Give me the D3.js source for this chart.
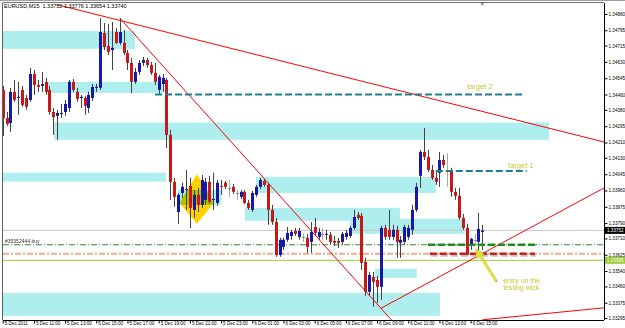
<!DOCTYPE html>
<html>
<head>
<meta charset="utf-8">
<script src="https://cdnjs.cloudflare.com/ajax/libs/d3/7.8.5/d3.min.js"></script>
<style>
  body { margin: 0; background: #ffffff; }
  svg { display: block; font-family: Arial, "Liberation Sans", sans-serif; }
</style>
</head>
<body>
<svg id="chart" width="625" height="328"></svg>
<script>
// ---- data ----
var symbolTitle = "EURUSD,M15  1.33752 1.33776 1.33654 1.33740";
var firstBar = "2011-12-05 09:00";
var viewEnd = "2011-12-06 23:33";
var priceRange = [1.33285, 1.34937];

var open = [
1.34484, 1.34338, 1.34312, 1.34474, 1.34442, 1.34484, 1.34442, 1.34432, 1.34567, 1.34510,
1.34505, 1.34526, 1.34484, 1.34369, 1.34349, 1.34359, 1.34369, 1.34390, 1.34526, 1.34474,
1.34442, 1.34442, 1.34390, 1.34442, 1.34495, 1.34495, 1.34781, 1.34713, 1.34692, 1.34786,
1.34729, 1.34729, 1.34677, 1.34625, 1.34526, 1.34578, 1.34625, 1.34640, 1.34614, 1.34573,
1.34484, 1.34515, 1.34536, 1.34250, 1.34005, 1.33848, 1.33947, 1.33963, 1.33984, 1.33859,
1.33937, 1.33885, 1.33911, 1.34005, 1.33911, 1.33895, 1.33984, 1.34000, 1.33974, 1.33979,
1.33947, 1.33927, 1.33953, 1.33895, 1.33859, 1.33937, 1.33979, 1.34010, 1.33989, 1.33859,
1.33796, 1.33624, 1.33666, 1.33703, 1.33723, 1.33749, 1.33718, 1.33718, 1.33713, 1.33692,
1.33770, 1.33718, 1.33734, 1.33729, 1.33729, 1.33697, 1.33697, 1.33692, 1.33718, 1.33723,
1.33765, 1.33833, 1.33828, 1.33588, 1.33432, 1.33510, 1.33494, 1.33458, 1.33765, 1.33755,
1.33718, 1.33755, 1.33687, 1.33692, 1.33718, 1.33755, 1.33859, 1.34036, 1.34161, 1.34135,
1.34067, 1.34026, 1.34052, 1.34119, 1.34067, 1.34067, 1.33953, 1.33932, 1.33817, 1.33765,
1.33677, 1.33703, 1.33692, 1.33744
];
var high = [
1.34505, 1.34369, 1.34495, 1.34536, 1.34526, 1.34505, 1.34458, 1.34599, 1.34588, 1.34536,
1.34578, 1.34547, 1.34505, 1.34390, 1.34380, 1.34411, 1.34432, 1.34536, 1.34541, 1.34495,
1.34458, 1.34453, 1.34474, 1.34515, 1.34515, 1.34859, 1.34833, 1.34828, 1.34838, 1.34807,
1.34859, 1.34797, 1.34692, 1.34651, 1.34599, 1.34640, 1.34656, 1.34651, 1.34630, 1.34625,
1.34562, 1.34567, 1.34547, 1.34276, 1.34026, 1.33947, 1.34000, 1.34067, 1.34026, 1.33963,
1.33974, 1.34041, 1.34026, 1.34036, 1.34052, 1.34015, 1.34015, 1.34010, 1.34015, 1.33994,
1.33963, 1.33963, 1.33963, 1.33911, 1.33958, 1.33989, 1.34026, 1.34020, 1.34000, 1.33885,
1.33817, 1.33713, 1.33713, 1.33770, 1.33755, 1.33765, 1.33765, 1.33739, 1.33734, 1.33796,
1.33817, 1.33765, 1.33765, 1.33755, 1.33744, 1.33723, 1.33713, 1.33744, 1.33755, 1.33776,
1.33859, 1.33848, 1.33843, 1.33609, 1.33536, 1.33536, 1.33515, 1.33776, 1.33781, 1.33859,
1.33781, 1.33776, 1.33723, 1.33781, 1.33781, 1.33885, 1.34000, 1.34171, 1.34286, 1.34171,
1.34093, 1.34057, 1.34161, 1.34145, 1.34156, 1.34078, 1.33974, 1.33974, 1.33838, 1.33786,
1.33713, 1.33734, 1.33843, 1.33781
];
var low = [
1.34244, 1.34297, 1.34265, 1.34422, 1.34354, 1.34396, 1.34380, 1.34422, 1.34458, 1.34474,
1.34474, 1.34458, 1.34354, 1.34250, 1.34224, 1.34338, 1.34349, 1.34369, 1.34474, 1.34422,
1.34390, 1.34354, 1.34364, 1.34427, 1.34474, 1.34484, 1.34692, 1.34666, 1.34588, 1.34724,
1.34719, 1.34666, 1.34588, 1.34468, 1.34515, 1.34562, 1.34609, 1.34599, 1.34562, 1.34510,
1.34458, 1.34474, 1.34182, 1.33911, 1.33875, 1.33786, 1.33921, 1.33859, 1.33765, 1.33817,
1.33848, 1.33869, 1.33885, 1.33890, 1.33859, 1.33880, 1.33937, 1.33968, 1.33927, 1.33942,
1.33911, 1.33916, 1.33890, 1.33859, 1.33848, 1.33927, 1.33968, 1.33979, 1.33781, 1.33781,
1.33614, 1.33614, 1.33650, 1.33692, 1.33703, 1.33723, 1.33703, 1.33692, 1.33635, 1.33635,
1.33723, 1.33703, 1.33703, 1.33703, 1.33677, 1.33671, 1.33661, 1.33677, 1.33703, 1.33713,
1.33755, 1.33807, 1.33546, 1.33411, 1.33416, 1.33354, 1.33374, 1.33390, 1.33703, 1.33703,
1.33703, 1.33609, 1.33609, 1.33677, 1.33703, 1.33729, 1.33848, 1.33974, 1.34119, 1.34057,
1.34015, 1.33989, 1.33979, 1.34078, 1.33979, 1.33927, 1.33911, 1.33807, 1.33755, 1.33619,
1.33650, 1.33671, 1.33635, 1.33650
];
var close = [
1.34338, 1.34307, 1.34474, 1.34432, 1.34448, 1.34406, 1.34396, 1.34567, 1.34510, 1.34500,
1.34515, 1.34474, 1.34369, 1.34343, 1.34364, 1.34364, 1.34411, 1.34526, 1.34484, 1.34437,
1.34448, 1.34401, 1.34458, 1.34500, 1.34500, 1.34786, 1.34708, 1.34682, 1.34703, 1.34729,
1.34786, 1.34677, 1.34625, 1.34526, 1.34578, 1.34625, 1.34640, 1.34614, 1.34573, 1.34526,
1.34552, 1.34547, 1.34250, 1.34005, 1.33927, 1.33937, 1.33979, 1.33968, 1.33869, 1.33937,
1.33885, 1.34015, 1.34005, 1.33901, 1.33916, 1.34000, 1.33979, 1.33979, 1.33974, 1.33953,
1.33947, 1.33953, 1.33895, 1.33869, 1.33947, 1.33979, 1.34015, 1.33989, 1.33859, 1.33796,
1.33624, 1.33703, 1.33703, 1.33739, 1.33744, 1.33734, 1.33749, 1.33718, 1.33666, 1.33744,
1.33739, 1.33744, 1.33734, 1.33734, 1.33692, 1.33687, 1.33687, 1.33734, 1.33739, 1.33765,
1.33822, 1.33817, 1.33583, 1.33432, 1.33520, 1.33484, 1.33458, 1.33765, 1.33718, 1.33718,
1.33755, 1.33692, 1.33703, 1.33770, 1.33765, 1.33859, 1.33979, 1.34161, 1.34135, 1.34067,
1.34026, 1.34005, 1.34119, 1.34093, 1.34067, 1.33953, 1.33932, 1.33817, 1.33765, 1.33624,
1.33708, 1.33703, 1.33760, 1.33752
];

var priceTicks = [1.34880, 1.34795, 1.34715, 1.34630, 1.34545, 1.34460, 1.34380, 1.34295, 1.34210, 1.34130,
                  1.34045, 1.33960, 1.33875, 1.33790, 1.33710, 1.33625, 1.33540, 1.33460, 1.33375, 1.33295];
var timeTicks = ["2011-12-05 09:00", "2011-12-05 11:00", "2011-12-05 13:00", "2011-12-05 15:00",
                 "2011-12-05 17:00", "2011-12-05 19:00", "2011-12-05 21:00", "2011-12-05 23:00",
                 "2011-12-06 01:00", "2011-12-06 03:00", "2011-12-06 05:00", "2011-12-06 07:00",
                 "2011-12-06 09:00", "2011-12-06 11:00", "2011-12-06 13:00", "2011-12-06 15:00"];
var timeLabels = ["5 Dec 2011", "5 Dec 11:00", "5 Dec 13:00", "5 Dec 15:00", "5 Dec 17:00", "5 Dec 19:00",
                  "5 Dec 21:00", "5 Dec 23:00", "6 Dec 01:00", "6 Dec 03:00", "6 Dec 05:00", "6 Dec 07:00",
                  "6 Dec 09:00", "6 Dec 11:00", "6 Dec 13:00", "6 Dec 15:00"];

// supply / demand zones: [from, to, top price, bottom price]
var zones = [
  ["2011-12-05 09:00", "2011-12-05 17:29", 1.34791, 1.34698],
  ["2011-12-05 11:50", "2011-12-05 19:16", 1.34526, 1.34468],
  ["2011-12-05 12:17", "2011-12-06 20:01", 1.34314, 1.34224],
  ["2011-12-05 09:00", "2011-12-05 19:28", 1.34053, 1.34006],
  ["2011-12-06 01:14", "2011-12-06 12:46", 1.34031, 1.33947],
  ["2011-12-05 20:14", "2011-12-05 23:00", 1.33963, 1.33885],
  ["2011-12-06 00:32", "2011-12-06 10:28", 1.33869, 1.33802],
  ["2011-12-06 07:16", "2011-12-06 14:38", 1.33812, 1.33734],
  ["2011-12-06 08:52", "2011-12-06 11:33", 1.33552, 1.33505],
  ["2011-12-05 09:00", "2011-12-06 13:02", 1.33426, 1.33307]
];
// trend rays: [time1, price1, time2, price2]
var trendLines = [
  ["2011-12-05 12:30", 1.34928, "2011-12-06 22:30", 1.34234],
  ["2011-12-05 16:30", 1.34859, "2011-12-06 09:15", 1.33346],
  ["2011-12-06 09:15", 1.33346, "2011-12-06 23:30", 1.33971],
  ["2011-12-06 15:45", 1.33286, "2011-12-06 23:30", 1.33348]
];
var diamond = [["2011-12-05 21:27", 1.34046], ["2011-12-05 22:33", 1.33895],
               ["2011-12-05 21:27", 1.33786], ["2011-12-05 20:20", 1.33895]];
// short level segments: [from, to, price]
var targetLevels = [
  ["2011-12-05 18:46", "2011-12-06 18:29", 1.34460],
  ["2011-12-06 12:46", "2011-12-06 18:36", 1.34062]
];
var stopLevel = ["2011-12-06 12:23", "2011-12-06 19:07", 1.33630];
var entryLevel = ["2011-12-06 12:16", "2011-12-06 19:07", 1.33677];
var orderPrice = 1.33677, orderStop = 1.33630, greenLevel = 1.33596, bidPrice = 1.33752;
var orderLabel = "#35352444 buy";
var notes = [
  ["target 2", "2011-12-06 14:46", 1.34489],
  ["target 1", "2011-12-06 17:24", 1.34078],
  ["entry on the", "2011-12-06 17:05", 1.33479],
  ["testing wick", "2011-12-06 17:05", 1.33442]
];
var arrow = [["2011-12-06 16:37", 1.33489], ["2011-12-06 15:19", 1.33656]];

// ---- drawing ----
var parse = d3.timeParse("%Y-%m-%d %H:%M");
var t0 = parse(firstBar);
var plotLeft = 3, plotTop = 3, plotRight = 604, plotBottom = 320;

var svg = d3.select("#chart");
var x = d3.scaleTime().domain([t0, parse(viewEnd)]).range([2.7, plotRight]);
var y = d3.scaleLinear().domain(priceRange).range([plotBottom, plotTop]);

var bars = open.map(function (o, i) {
  return { t: d3.timeMinute.offset(t0, 15 * i), o: o, h: high[i], l: low[i], c: close[i] };
});

svg.append("line").attr("x1", 0).attr("x2", 625).attr("y1", 0.5).attr("y2", 0.5)
  .attr("stroke", "#a0a0a0");

svg.append("clipPath").attr("id", "plot")
  .append("rect").attr("x", plotLeft).attr("y", plotTop)
  .attr("width", plotRight - plotLeft).attr("height", plotBottom - plotTop);

var g = svg.append("g").attr("clip-path", "url(#plot)");

// zones
g.selectAll(".zone").data(zones).enter().append("rect")
  .attr("x", function (d) { return x(parse(d[0])); })
  .attr("width", function (d) { return x(parse(d[1])) - x(parse(d[0])); })
  .attr("y", function (d) { return y(d[2]); })
  .attr("height", function (d) { return y(d[3]) - y(d[2]); })
  .attr("fill", "#afeeee");

// diamond pattern marker
g.append("polygon")
  .attr("points", diamond.map(function (d) { return x(parse(d[0])) + "," + y(d[1]); }).join(" "))
  .attr("fill", "#ffd200").style("mix-blend-mode", "multiply");

// full width order / price lines
function hline(price, color, width, dash) {
  g.append("line").attr("x1", plotLeft).attr("x2", plotRight)
    .attr("y1", y(price)).attr("y2", y(price))
    .attr("stroke", color).attr("stroke-width", width)
    .attr("stroke-dasharray", dash || null);
}
hline(bidPrice, "#c8c8c8", 1);
hline(orderPrice, "#2e8b2e", 1, "6,2,1,2");
hline(orderStop, "#f6a88a", 2, "6,2,2,2");
hline(greenLevel, "#9acd32", 1);

g.append("text").attr("x", 5).attr("y", y(orderPrice) - 1.5)
  .attr("font-size", 5).attr("fill", "#333").text(orderLabel);

// trend rays
trendLines.forEach(function (d) {
  var x1 = x(parse(d[0])), y1 = y(d[1]), x2 = x(parse(d[2])), y2 = y(d[3]);
  var k = (y2 - y1) / (x2 - x1);
  g.append("line").attr("x1", x1).attr("y1", y1)
    .attr("x2", plotRight + 10).attr("y2", y1 + k * (plotRight + 10 - x1))
    .attr("stroke", "#ff0000").attr("stroke-width", 1);
});

// candles
var cw = 3;
var candle = g.selectAll(".bar").data(bars).enter().append("g");
candle.append("line")
  .attr("x1", function (d) { return Math.round(x(d.t)) + 0.5; })
  .attr("x2", function (d) { return Math.round(x(d.t)) + 0.5; })
  .attr("y1", function (d) { return y(d.h); })
  .attr("y2", function (d) { return y(d.l); })
  .attr("stroke", function (d) { return d.o === d.c ? "#a8a8a8" : "#444"; });
candle.filter(function (d) { return d.o !== d.c; }).append("rect")
  .attr("x", function (d) { return Math.round(x(d.t)) - 1; })
  .attr("width", cw)
  .attr("y", function (d) { return y(Math.max(d.o, d.c)); })
  .attr("height", function (d) { return Math.max(1, Math.abs(y(d.o) - y(d.c))); })
  .attr("fill", function (d) { return d.c > d.o ? "#1818a8" : "#c81818"; });
candle.filter(function (d) { return d.o === d.c; }).append("line")
  .attr("x1", function (d) { return Math.round(x(d.t)) - 1; })
  .attr("x2", function (d) { return Math.round(x(d.t)) + 2; })
  .attr("y1", function (d) { return Math.round(y(d.o)) + 0.5; })
  .attr("y2", function (d) { return Math.round(y(d.o)) + 0.5; })
  .attr("stroke", "#888");

// target / trade segments
targetLevels.forEach(function (d) {
  g.append("line").attr("x1", x(parse(d[0]))).attr("x2", x(parse(d[1])))
    .attr("y1", y(d[2])).attr("y2", y(d[2]))
    .attr("stroke", "#1f7f92").attr("stroke-width", 2).attr("stroke-dasharray", "7,3");
});
g.append("line").attr("x1", x(parse(stopLevel[0])) + 1).attr("x2", x(parse(stopLevel[1])) + 1)
  .attr("y1", y(stopLevel[2]) + 2).attr("y2", y(stopLevel[2]) + 2)
  .attr("stroke", "#c4c4c4").attr("stroke-width", 2).attr("stroke-dasharray", "7,3");
g.append("line").attr("x1", x(parse(stopLevel[0]))).attr("x2", x(parse(stopLevel[1])))
  .attr("y1", y(stopLevel[2])).attr("y2", y(stopLevel[2]))
  .attr("stroke", "#c81e1e").attr("stroke-width", 2.5).attr("stroke-dasharray", "7,3");
g.append("line").attr("x1", x(parse(entryLevel[0]))).attr("x2", x(parse(entryLevel[1])))
  .attr("y1", y(entryLevel[2])).attr("y2", y(entryLevel[2]))
  .attr("stroke", "#1e8c1e").attr("stroke-width", 2.5).attr("stroke-dasharray", "7,3");

// arrow
var ax1 = x(parse(arrow[0][0])), ay1 = y(arrow[0][1]);
var ax2 = x(parse(arrow[1][0])), ay2 = y(arrow[1][1]);
var ang = Math.atan2(ay2 - ay1, ax2 - ax1);
var hl = 9, hw = 4.5;
var bx = ax2 - hl * Math.cos(ang), by = ay2 - hl * Math.sin(ang);
g.append("line").attr("x1", ax1 + 1).attr("y1", ay1 + 1).attr("x2", bx + 1).attr("y2", by + 1)
  .attr("stroke", "#a8a8a8").attr("stroke-width", 2.5);
g.append("line").attr("x1", ax1).attr("y1", ay1).attr("x2", bx).attr("y2", by)
  .attr("stroke", "#e4e42a").attr("stroke-width", 2.5);
g.append("polygon")
  .attr("points", [
    [ax2, ay2],
    [bx + hw * Math.sin(ang), by - hw * Math.cos(ang)],
    [bx - hw * Math.sin(ang), by + hw * Math.cos(ang)]
  ].map(function (p) { return p.join(","); }).join(" "))
  .attr("fill", "#e4e42a").attr("stroke", "#b0b040").attr("stroke-width", 0.5);

// text notes
g.selectAll(".note").data(notes).enter().append("text")
  .attr("x", function (d) { return x(parse(d[1])); })
  .attr("y", function (d) { return y(d[2]); })
  .attr("font-size", function (d, i) { return i < 2 ? 7.5 : 7; })
  .attr("fill", "#c8c832")
  .text(function (d) { return d[0]; });

// shift marker
var sx = x(bars[bars.length - 1].t);
svg.append("path").attr("d", "M" + (sx - 2) + ",3L" + (sx + 2) + ",3L" + sx + ",6Z").attr("fill", "#909090");

// frame
svg.append("line").attr("x1", 2.5).attr("x2", 2.5).attr("y1", plotTop).attr("y2", plotBottom)
  .attr("stroke", "#606060");
svg.append("line").attr("x1", 2.5).attr("x2", plotRight).attr("y1", 2.5).attr("y2", 2.5)
  .attr("stroke", "#707070");

// axes
var yAxis = svg.append("g").attr("transform", "translate(" + (plotRight + 0.5) + ",0)")
  .call(d3.axisRight(y).tickValues(priceTicks).tickFormat(d3.format(".5f"))
    .tickSize(3).tickSizeOuter(0).tickPadding(1));
var xAxis = svg.append("g").attr("transform", "translate(0," + (plotBottom + 0.5) + ")")
  .call(d3.axisBottom(x).tickValues(timeTicks.map(parse))
    .tickFormat(function (d, i) { return timeLabels[i]; }).tickSize(3).tickSizeOuter(0));
xAxis.selectAll("text").attr("text-anchor", "start").attr("x", 1.5).attr("y", 1.5);
[yAxis, xAxis].forEach(function (a) {
  a.attr("font-family", null).attr("font-size", 4.6);
  a.select(".domain").attr("stroke", "#000");
});
xAxis.select(".domain").attr("d", "M" + plotLeft + ",0H" + plotRight);
yAxis.select(".domain").attr("d", "M0," + plotTop + "V" + plotBottom);

// price labels on the axis
function priceTag(price, bg, fg) {
  svg.append("rect").attr("x", plotRight + 1).attr("y", y(price) - 3.5)
    .attr("width", 20).attr("height", 7).attr("fill", bg);
  svg.append("text").attr("x", plotRight + 3).attr("y", y(price) + 1.7)
    .attr("font-size", 4.6).attr("fill", fg).text(d3.format(".5f")(price));
}
priceTag(bidPrice, "#000", "#fff");
priceTag(greenLevel, "#9acd32", "#fff");

svg.append("text").attr("x", 4).attr("y", 8).attr("font-size", 5.5).attr("fill", "#000")
  .style("white-space", "pre").text(symbolTitle);
</script>
</body>
</html>
